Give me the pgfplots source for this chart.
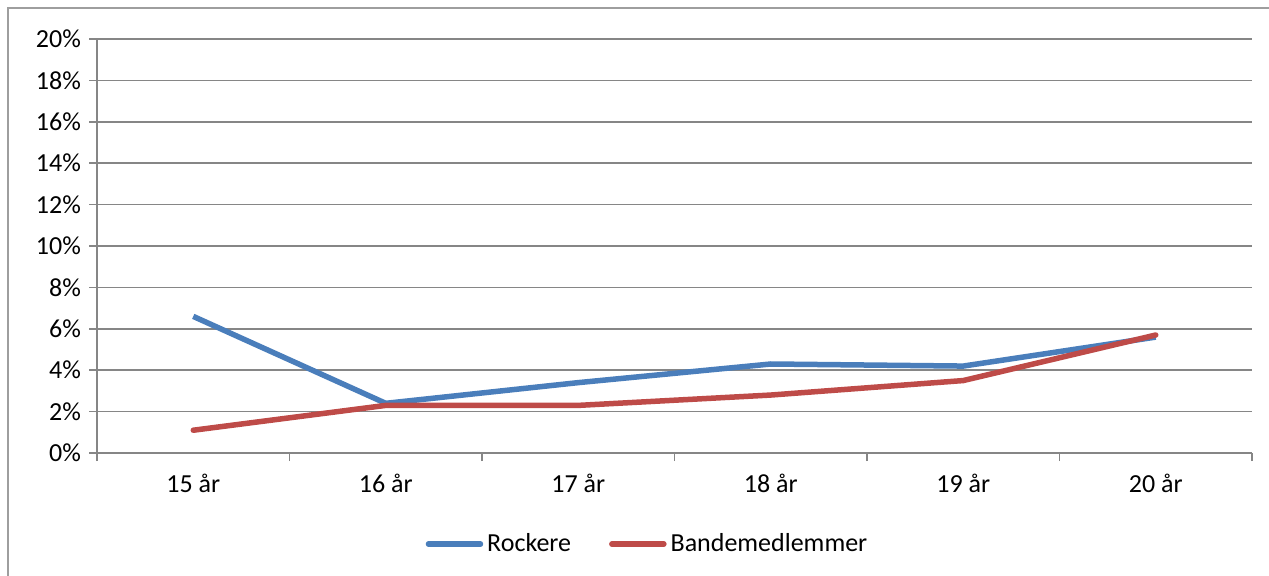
\documentclass[border=0pt]{standalone}
\usepackage{pgfplots}
\pgfplotsset{compat=1.18}
\usepackage{fontspec}
\setmainfont{Carlito}

\definecolor{rockblue}{HTML}{4A7EBB}
\definecolor{bandered}{HTML}{BE4B48}
\definecolor{gridgray}{HTML}{868686}

\begin{document}
\begin{tikzpicture}
  % picture frame, 1 px = 0.5 pt
  \path[use as bounding box] (-48.5pt,-61pt) rectangle (586pt,226.5pt);
  \draw[gridgray!80, line width=1pt] (-44.5pt,-62pt) -- (-44.5pt,222.5pt) -- (587pt,222.5pt);
  \begin{axis}[
      at={(0pt,0pt)}, anchor=south west,
      scale only axis,
      width=577.5pt, height=207pt,
      xmin=0.5, xmax=6.5,
      ymin=0, ymax=20,
      axis x line*=bottom,
      axis y line*=left,
      axis line style={gridgray, line width=0.8pt, -},
      xtick={0.5,1.5,...,6.5},
      x tick label as interval,
      xticklabels={15 år,16 år,17 år,18 år,19 år,20 år},
      ytick={0,2,...,20},
      yticklabel={\pgfmathprintnumber{\tick}\%},
      ymajorgrids,
      grid style={gridgray, line width=0.8pt},
      major tick length=4pt,
      tick align=outside,
      tick style={gridgray, line width=0.8pt},
      tick label style={font=\fontsize{13}{15}\selectfont, black},
      /pgf/number format/assume math mode=true,
      yticklabel style={xshift=-0.5pt},
      xticklabel style={anchor=north, yshift=-3pt},
      legend style={at={(rel axis cs:0.4775,-0.22)}, anchor=center, draw=none,
        legend columns=2, font=\fontsize{13}{15}\selectfont,
        inner sep=0pt,
        /tikz/every even column/.append style={column sep=17pt}},
      legend image code/.code={\draw[#1, line width=2.75pt, line cap=round] (0pt,0pt) -- (26pt,0pt);},
      legend cell align=left,
    ]
    \addplot[rockblue, line width=2.75pt, line join=round] coordinates {
      (1,6.6) (2,2.4) (3,3.4) (4,4.3) (5,4.2) (6,5.6)
    };
    \addlegendentry{Rockere}
    \addplot[bandered, line width=2.75pt, line join=round, line cap=round] coordinates {
      (1,1.1) (2,2.3) (3,2.3) (4,2.8) (5,3.5) (6,5.7)
    };
    \addlegendentry{Bandemedlemmer}
  \end{axis}
\end{tikzpicture}
\end{document}
